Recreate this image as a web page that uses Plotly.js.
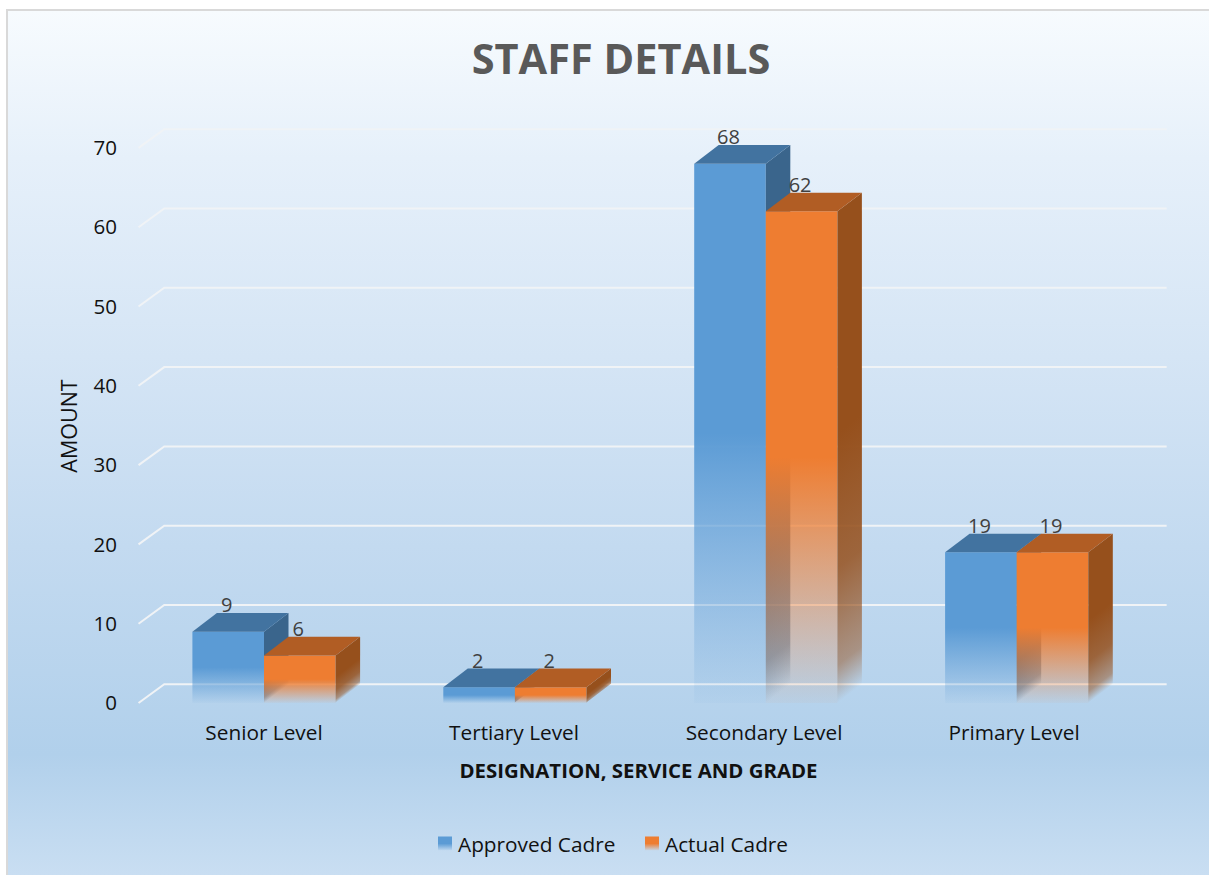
<!DOCTYPE html>
<html>
<head>
<meta charset="utf-8">
<script src="https://cdn.plot.ly/plotly-3.0.1.min.js"></script>
<style>
html,body{margin:0;padding:0;background:#fff;width:1209px;height:875px;overflow:hidden}
#frame{position:absolute;left:6px;top:9px;width:1203px;height:866px;border-left:2px solid #d9d9d9;border-top:2px solid #d9d9d9;box-sizing:border-box;
background:linear-gradient(180deg,#f7fbfe 0%,#e6f0fa 17%,#d5e5f5 40%,#c3daf0 62%,#b1d0eb 86%,#c9def2 100%)}
#chart{position:absolute;left:0;top:0;width:1209px;height:875px}
</style>
</head>
<body>
<div id="frame"></div>
<div id="chart"></div>
<script>
const categories = ['Senior Level','Tertiary Level','Secondary Level','Primary Level'];
const approvedCadre = [9,2,68,19];
const actualCadre = [6,2,62,19];
const tickValues = [0,10,20,30,40,50,60,70];

const FONT = '"Open Sans", sans-serif';
// plot-area geometry
const W = 1209, H = 875;
const L = 102, R = 1175, T = 115, B = 737;
const pxPerCat = 250.9, pxPerUnit = 7.93, x0Px = 264, y0Px = 703;
const xRange = [(L-x0Px)/pxPerCat, (R-x0Px)/pxPerCat];
const yRange = [(y0Px-B)/pxPerUnit, (y0Px-T)/pxPerUnit];
const xAxisLinePx = 714, yAxisLinePx = 130;
// pseudo-3D depth, in axis units
const depthX = 24.5/pxPerCat, depthY = 18.7/pxPerUnit, barW = 71.6/pxPerCat;
const labelLift = 24.5/pxPerUnit, labelShift = 1.5/pxPerCat;
const fadeShare = 0.55;
const catX = categories.map((_,i)=>i);

function rgba(c,a){return 'rgba('+c.join(',')+','+a+')';}
const series = [
  {name:'Approved Cadre', vals:approvedCadre, offset:-barW, front:'#5b9bd5', top:[66,115,160], side:[58,101,140], xa:'x', ya:'y', gid:'gradA'},
  {name:'Actual Cadre', vals:actualCadre, offset:0, front:'#ee7d31', top:[177,93,36], side:[150,80,28], xa:'x2', ya:'y2', gid:'gradB'}
];

const traces = [];
series.forEach(s=>{
  traces.push({type:'bar', name:s.name, x:catX, y:s.vals, width:barW, offset:s.offset, meta:s.gid,
    marker:{color:s.front, line:{width:0}}, xaxis:s.xa, yaxis:s.ya, hoverinfo:'skip', showlegend:true});
  s.vals.forEach((v,i)=>{
    const xl = i+s.offset, xr = xl+barW;
    // side face
    traces.push({type:'scatter', mode:'lines', line:{width:0}, showlegend:false, hoverinfo:'skip', meta:s.gid+'side'+i,
      x:[xr,xr+depthX,xr+depthX,xr,xr], y:[0,depthY,v+depthY,v,0], fill:'toself',
      fillcolor:rgba(s.side,1), xaxis:s.xa, yaxis:s.ya});
    // top face
    traces.push({type:'scatter', mode:'lines', line:{width:0}, showlegend:false, hoverinfo:'skip',
      x:[xl,xr,xr+depthX,xl+depthX,xl], y:[v,v,v+depthY,v+depthY,v], fill:'toself',
      fillcolor:rgba(s.top,1), xaxis:s.xa, yaxis:s.ya});
  });
  // data labels
  traces.push({type:'scatter', mode:'text', showlegend:false, hoverinfo:'skip', cliponaxis:false,
    x:catX.map(i=>i+s.offset+barW/2-labelShift), y:s.vals.map(v=>v+labelLift),
    text:s.vals.map(String), textposition:'middle center',
    textfont:{family:FONT,size:20,color:'#404040'}, xaxis:s.xa, yaxis:s.ya});
});

// back-wall gridlines with their receding floor edge
const gridX0 = -0.5, gridX1 = 3.5;
const shapes = tickValues.map(v=>({
  type:'path', layer:'below', xref:'x', yref:'y',
  path:'M '+gridX0+' '+v+' L '+(gridX0+depthX*1.05)+' '+(v+depthY)+' L '+(gridX1+depthX)+' '+(v+depthY),
  line:{color:'#f0f3f6',width:2}, fillcolor:'rgba(0,0,0,0)'
}));

const layout = {
  width:W, height:H, autosize:false,
  paper_bgcolor:'rgba(0,0,0,0)', plot_bgcolor:'rgba(0,0,0,0)',
  margin:{l:L, r:W-R, t:T, b:H-B, pad:0},
  font:{family:FONT,color:'#111'},
  title:{text:'<b>STAFF DETAILS</b>', font:{family:FONT,size:41.5,color:'#595959'}, x:621/W, xanchor:'center', y:1-59/H, yanchor:'middle'},
  xaxis:{range:xRange, tickmode:'array', tickvals:catX.map(i=>i*0.9965), ticktext:categories, showgrid:false, zeroline:false, showline:false,
    ticks:'outside', ticklen:0, tickcolor:'rgba(0,0,0,0)', tickfont:{family:FONT,size:20.8,color:'#111'},
    anchor:'free', position:(B-xAxisLinePx)/(B-T),
    title:{text:'<b>DESIGNATION, SERVICE AND GRADE</b>', font:{family:FONT,size:20.4,color:'#111'}, standoff:18}},
  yaxis:{range:yRange, tickmode:'array', tickvals:tickValues, showgrid:false, zeroline:false, showline:false,
    ticks:'outside', ticklen:9, tickcolor:'rgba(0,0,0,0)', tickfont:{family:FONT,size:20.5,color:'#111'},
    anchor:'free', position:(yAxisLinePx-L)/(R-L),
    title:{text:'AMOUNT', font:{family:FONT,size:21.5,color:'#111'}, standoff:8}},
  xaxis2:{range:xRange, overlaying:'x', visible:false, anchor:'y2'},
  yaxis2:{range:yRange, overlaying:'y', visible:false, anchor:'x2'},
  legend:{orientation:'h', x:418/W, xref:'container', xanchor:'left', y:1-844/H, yref:'container', yanchor:'middle', bgcolor:'rgba(0,0,0,0)',
    font:{family:FONT,size:20.8,color:'#111'}, traceorder:'normal', itemwidth:30, entrywidth:162, entrywidthmode:'pixels'},
  shapes:shapes, hovermode:false
};

Plotly.newPlot('chart',traces,layout,{displayModeBar:false,responsive:false,staticPlot:true}).then(gd=>{
  // Plotly bars take only flat fills: add the fade-out as SVG gradients on the rendered marks
  const svgNS='http://www.w3.org/2000/svg';
  const svg=gd.querySelector('svg.main-svg');
  const defs=svg.querySelector('defs')||svg.insertBefore(document.createElementNS(svgNS,'defs'),svg.firstChild);
  function addGradient(id,x2,y2,color,stops){
    const g=document.createElementNS(svgNS,'linearGradient');
    g.setAttribute('id',id);g.setAttribute('x1','0');g.setAttribute('y1','0');g.setAttribute('x2',x2);g.setAttribute('y2',y2);
    stops.forEach(st=>{
      const e=document.createElementNS(svgNS,'stop');
      e.setAttribute('offset',st[0]);e.setAttribute('stop-color',color);e.setAttribute('stop-opacity',st[1]);
      g.appendChild(e);
    });
    defs.appendChild(g);
  }
  series.forEach(s=>{
    addGradient(s.gid,0,1,s.front,[[0,1],[0.5,1],[1,0.04]]);
    s.vals.forEach((v,i)=>{
      // gradient lines parallel to the receding bottom edge of the side face
      const c=depthY/(v+depthY), n=1+c*c, f=fadeShare*v/(v+depthY);
      addGradient(s.gid+'side'+i,c/n,1/n,'rgb('+s.side.join(',')+')',[[1-f,1],[1-f*0.5,0.85],[1-f*0.14,0.5],[1,0]]);
    });
  });
  const metaOf=el=>{const d=el.__data__; return d&&d[0]&&d[0].trace?d[0].trace.meta:null;};
  gd.querySelectorAll('.barlayer .trace.bars').forEach(t=>{
    const id=metaOf(t);
    if(id) t.querySelectorAll('path').forEach(p=>{p.style.fill='url(#'+id+')';p.style.fillOpacity=1;});
  });
  gd.querySelectorAll('.scatterlayer .trace').forEach(t=>{
    const id=metaOf(t), p=t.querySelector('.fills path');
    if(id&&p){p.style.fill='url(#'+id+')';p.style.fillOpacity=1;}
  });
  gd.querySelectorAll('.legend .traces').forEach((t,k)=>{
    t.querySelectorAll('.legendpoints path').forEach(p=>{
      p.setAttribute('d','M7,7H-7V-7H7Z');
      p.setAttribute('transform','translate(27,0)');
      p.style.fill='url(#'+series[k].gid+')';
    });
  });
});
</script>
</body>
</html>
